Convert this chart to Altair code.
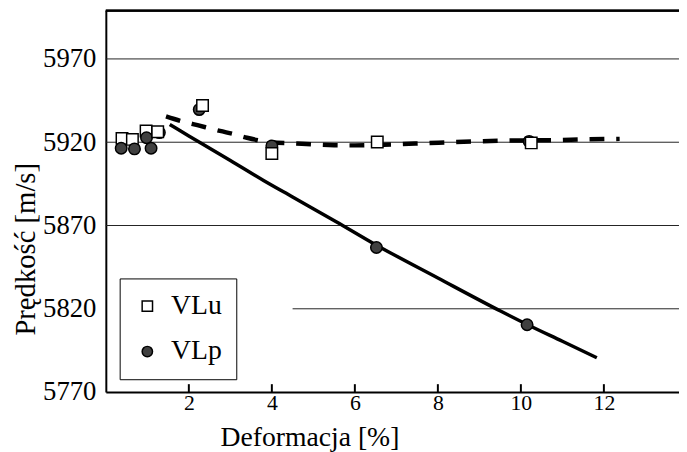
import altair as alt
import pandas as pd

# ---- data ----
x_ticks = [2, 4, 6, 8, 10, 12]
y_ticks = [5770, 5820, 5870, 5920, 5970]

# measured points, in drawing order (series, x, y)
pt_series = ["VLu", "VLu", "VLu", "VLp", "VLp", "VLp", "VLp", "VLp", "VLu",
             "VLp", "VLu", "VLp", "VLu", "VLp", "VLu", "VLp", "VLu", "VLp"]
pt_x = [0.39, 0.64, 0.97, 0.37, 0.69, 1.09, 0.98, 1.29, 1.25,
        2.25, 2.33, 4.0, 4.0, 6.52, 6.54, 10.2, 10.25, 10.15]
pt_y = [5922.3, 5921.7, 5926.7, 5916.4, 5916.0, 5916.4, 5922.7, 5925.8, 5926.3,
        5939.6, 5942.1, 5917.8, 5913.2, 5856.8, 5920.1, 5920.5, 5919.6, 5810.4]

# fitted curves
dash_x = [1.45, 1.8, 2.1, 2.4, 2.75, 3.1, 3.4, 3.75, 4.0, 4.5, 5.0, 5.5, 6.0,
          6.9, 7.55, 8.2, 8.9, 9.5, 10.2, 10.9, 11.55, 12.38]
dash_y = [5935.5, 5932.8, 5930.9, 5929.0, 5926.8, 5924.8, 5922.7, 5920.8, 5920.0,
          5919.4, 5918.7, 5918.2, 5918.1, 5918.7, 5919.3, 5919.9, 5920.5, 5920.9,
          5921.1, 5921.3, 5921.7, 5922.0]
solid_x = [1.54, 2.0, 3.0, 3.8, 4.5, 5.55, 6.5, 8.0, 9.52, 10.15, 11.0, 11.83]
solid_y = [5930.6, 5923.8, 5909.0, 5897.0, 5887.1, 5872.3, 5858.5, 5838.5,
           5818.5, 5810.6, 5800.5, 5790.6]

# horizontal grid lines (value, where the line starts on x)
grid_y = [5820, 5870, 5920, 5970]
grid_x0 = [4.5, 0, 0, 0]

series_names = ["VLu", "VLp"]
series_fill = ["white", "#404040"]
series_shape = ["square", "circle"]

X_MAX = 13.81
Y_MIN, Y_MAX = 5770, 5999
W, H = 580, 386
FONT = "Liberation Serif"

points = pd.DataFrame({"series": pt_series, "x": pt_x, "y": pt_y})
dashed = pd.DataFrame({"x": dash_x, "y": dash_y})
solid = pd.DataFrame({"x": solid_x, "y": solid_y})
grid = pd.DataFrame({"y": grid_y, "x0": grid_x0})
ticks = pd.DataFrame({"x": x_ticks})

xs = alt.Scale(domain=[0, X_MAX], nice=False, zero=False)
ys = alt.Scale(domain=[Y_MIN, Y_MAX], nice=False, zero=False)

common = dict(ticks=False, grid=False, labelFont=FONT, labelColor="black",
              domainColor="black", domainWidth=2, titleFont=FONT,
              titleFontWeight="normal", titleColor="black", format="d")
x_axis = alt.Axis(values=x_ticks, title="Deformacja [%]",
                  labelFontSize=22, labelPadding=1,
                  titleFontSize=28, titleX=206, titleY=54, titleAlign="center",
                  titleBaseline="alphabetic", **common)
y_axis = alt.Axis(values=y_ticks, title="Prędkość [m/s]",
                  labelFontSize=27, labelPadding=10,
                  titleFontSize=29, titleAngle=270, titleX=-72, titleY=241,
                  titleAlign="center", titleBaseline="alphabetic", **common)

X = lambda f: alt.X(f, scale=xs, axis=x_axis)
Y = lambda f: alt.Y(f, scale=ys, axis=y_axis)

grid_layer = alt.Chart(grid).mark_rule(color="#222222", strokeWidth=1).encode(
    x=X("x0:Q"), x2=alt.value(W), y=Y("y:Q"),
)

top_border = alt.Chart(grid).mark_rule(color="black", strokeWidth=2).encode(
    x=alt.value(0), x2=alt.value(W), y=alt.value(0)
)

tick_layer = alt.Chart(ticks).mark_rule(color="black", strokeWidth=2).encode(
    x=X("x:Q"), y=alt.value(H), y2=alt.value(H - 8)
)

dash_layer = alt.Chart(dashed).mark_line(
    color="black", strokeWidth=4.5, strokeDash=[15, 12], interpolate="monotone"
).encode(x=X("x:Q"), y=Y("y:Q"))

solid_layer = alt.Chart(solid).mark_line(
    color="black", strokeWidth=3.5, interpolate="monotone"
).encode(x=X("x:Q"), y=Y("y:Q"))

legend = alt.Legend(title=None, orient="none", legendX=14, legendY=271,
                    fillColor="white", strokeColor="black", padding=14,
                    labelFont=FONT, labelFontSize=28, labelColor="black",
                    symbolSize=110, symbolStrokeWidth=1.5, rowPadding=18,
                    labelOffset=10, symbolOffset=0,
                    labelExpr="datum.label + '\u00a0\u00a0'")

pt_layer = alt.Chart(points).mark_point(
    filled=False, size=135, strokeWidth=1.5, opacity=1, fillOpacity=1
).encode(
    x=X("x:Q"),
    y=Y("y:Q"),
    fill=alt.Fill("series:N", scale=alt.Scale(domain=series_names,
                                              range=series_fill),
                  legend=legend),
    shape=alt.Shape("series:N", scale=alt.Scale(domain=series_names,
                                                range=series_shape),
                    legend=legend),
    stroke=alt.Stroke("series:N", scale=alt.Scale(domain=series_names,
                                                  range=["black", "black"]),
                      legend=legend),
    order=alt.Order("idx:Q"),
).transform_window(idx="row_number()")

chart = alt.layer(
    grid_layer, top_border, tick_layer, dash_layer, solid_layer, pt_layer
).properties(
    width=W, height=H,
    autosize=alt.AutoSizeParams(type="none"),
    padding={"left": 99, "top": 0, "right": 0, "bottom": 60},
    background="white",
).configure(font=FONT).configure_view(strokeWidth=0)

chart.save("out.html", embed_options={"renderer": "svg", "actions": False})
